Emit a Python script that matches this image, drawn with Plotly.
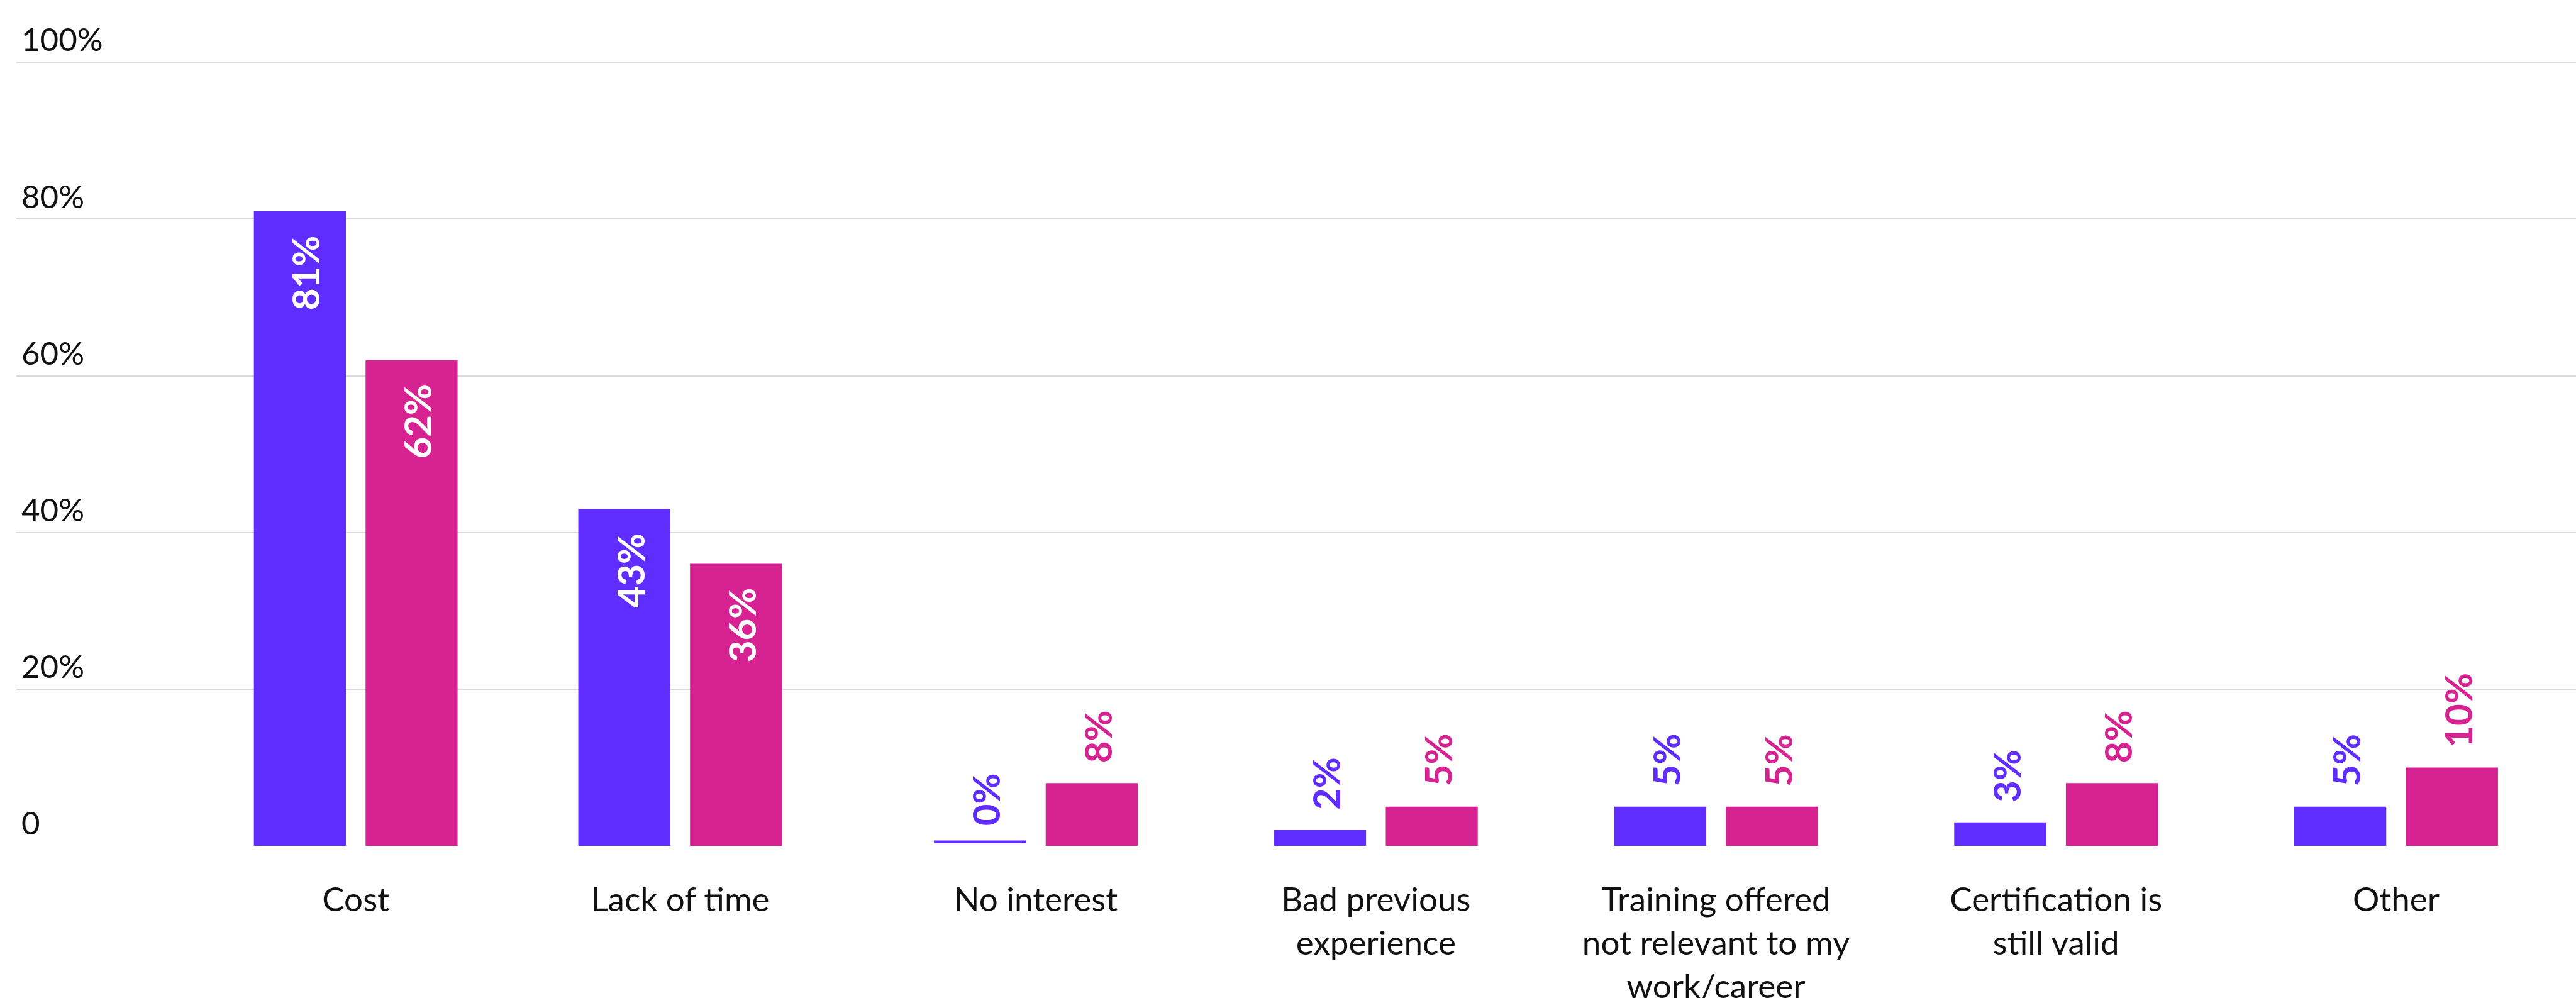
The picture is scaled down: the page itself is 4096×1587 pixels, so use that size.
import plotly.graph_objects as go

# Survey: reasons for not pursuing certification, two respondent groups
categories = [
    "Cost",
    "Lack of time",
    "No interest",
    "Bad previous<br>experience",
    "Training offered<br>not relevant to my<br>work/career",
    "Certification is<br>still valid",
    "Other",
]
series_a = [81, 43, 0, 2, 5, 3, 5]
series_b = [62, 36, 8, 5, 5, 8, 10]

y_tickvals = [0, 20, 40, 60, 80, 100]
y_ticktext = ["0", "20%", "40%", "60%", "80%", "100%"]

# horizontal slot of each category group (the second group sits a little left)
SLOTS = [0, 0.954, 2, 3, 4, 5, 6]

BLUE = "#5f2dff"
PINK = "#d62391"
BAR_W = 0.2705
GAP = 0.058
OFFSETS = [-(BAR_W + GAP / 2), GAP / 2]
INSIDE_MIN = 30  # values at or above this carry their label inside the bar

W, H = 4096, 1587
M_L, M_R, M_T, M_B = 26, 0, 37, 242
X_RANGE = [-0.998, 6.529]

fig = go.Figure()
for vals, color, off in [(series_a, BLUE, OFFSETS[0]), (series_b, PINK, OFFSETS[1])]:
    fig.add_trace(go.Bar(
        x=SLOTS, y=vals,
        width=BAR_W, offset=off,
        marker=dict(color=color, line=dict(width=0)),
        hoverinfo="skip", showlegend=False,
    ))

annotations = []
shapes = []
for vals, color, off in [(series_a, BLUE, OFFSETS[0]), (series_b, PINK, OFFSETS[1])]:
    for xs, v in zip(SLOTS, vals):
        inside = v >= INSIDE_MIN
        annotations.append(dict(
            x=xs + off + BAR_W / 2, y=v, xref="x", yref="y",
            text=f"<b>{v}%</b>", showarrow=False, textangle=-90,
            font=dict(family="Lato", size=60, weight=800,
                      color="white" if inside else color),
            xanchor="center", yanchor="top" if inside else "bottom",
            yshift=-36 if inside else 30, xshift=9,
        ))
        if v == 0:
            # zero-value marker drawn as a thin stub just above the baseline
            shapes.append(dict(
                type="rect", xref="x", x0=xs + off, x1=xs + off + BAR_W,
                yref="y", ysizemode="pixel", yanchor=0, y0=4, y1=8.5,
                fillcolor=color, line=dict(width=0), layer="above",
            ))

# heavy baseline under the bars
shapes.append(dict(
    type="rect", xref="paper", x0=-0.003, x1=1,
    yref="y", ysizemode="pixel", yanchor=0, y0=-8.5, y1=0,
    fillcolor="#d3d3d3", line=dict(width=0), layer="below",
))

fig.update_layout(
    width=W, height=H,
    margin=dict(l=M_L, r=M_R, t=M_T, b=M_B, pad=0, autoexpand=False),
    paper_bgcolor="white", plot_bgcolor="white",
    barmode="group",
    annotations=annotations, shapes=shapes,
    font=dict(family="Lato", color="#111111"),
)
fig.update_xaxes(
    range=X_RANGE, tickmode="array",
    tickvals=SLOTS, ticktext=categories, automargin=False,
    showgrid=False, zeroline=False, showline=False, ticks="",
    tickfont=dict(family="Lato", size=53, color="#111111"),
    ticklabelstandoff=50,
)
fig.update_yaxes(
    range=[0, 105], tickmode="array", tickvals=y_tickvals, ticktext=y_ticktext,
    automargin=False,
    showgrid=True, gridcolor="#d9d9d9", gridwidth=2,
    zeroline=False, showline=False, ticks="",
    ticklabelposition="inside top", ticklabeloverflow="allow",
    ticklabelstandoff=5,
    tickfont=dict(family="Lato", size=51, color="#111111"),
)

fig.write_html("out.html")
